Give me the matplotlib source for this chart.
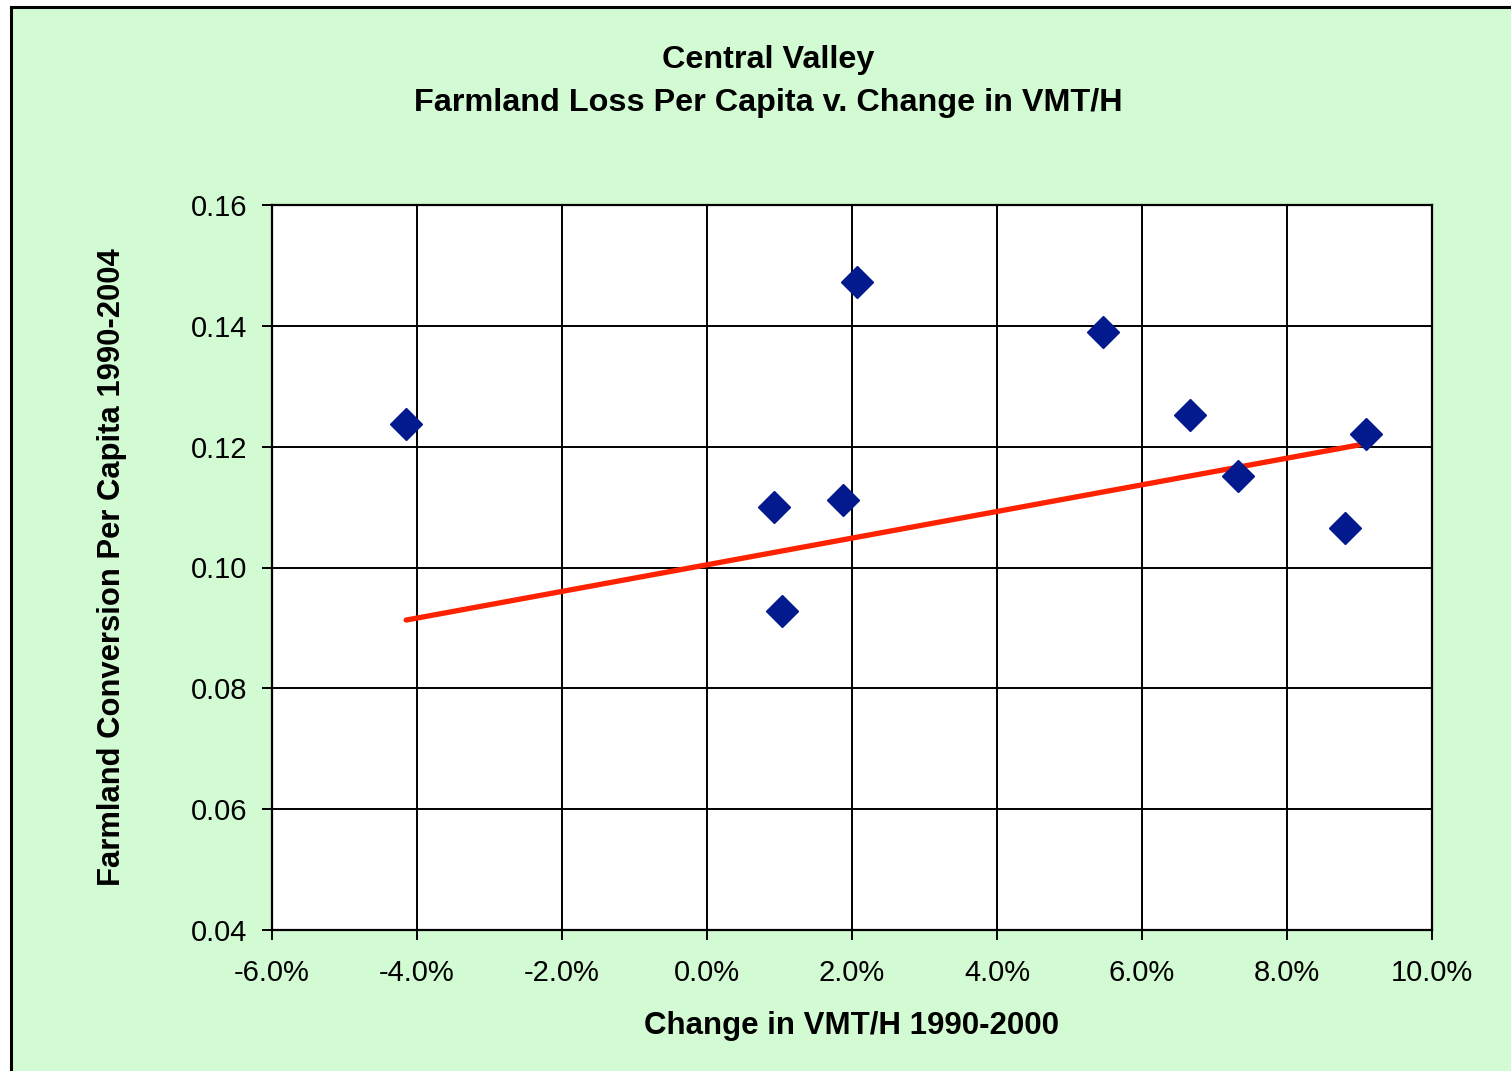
import matplotlib.pyplot as plt
from matplotlib.patches import Rectangle
from matplotlib.ticker import FuncFormatter

# data
vmt_change = [-4.15, 0.92, 1.03, 1.88, 2.07, 5.46, 6.66, 7.32, 8.80, 9.09]  # percent
farm_loss = [0.1238, 0.1100, 0.0928, 0.1112, 0.1473, 0.1390, 0.1252, 0.1151, 0.1065, 0.1221]
trend_x = [-4.15, 9.09]
trend_y = [0.0913, 0.1205]

x_ticks = [-6, -4, -2, 0, 2, 4, 6, 8, 10]
y_ticks = [0.04, 0.06, 0.08, 0.10, 0.12, 0.14, 0.16]

bg = "#D3FBD3"
plt.rcParams["font.family"] = ["Liberation Sans", "DejaVu Sans"]

fig = plt.figure(figsize=(15.11, 10.71), dpi=100)
fig.patch.set_facecolor("white")
# chart area with border
fig.patches.append(Rectangle((11 / 1511, -0.01), 1.02, 1 - 7 / 1071 + 0.01, transform=fig.transFigure,
                             facecolor=bg, edgecolor="black", linewidth=2.2, zorder=-5))

ax = fig.add_axes([272 / 1511, 1 - 930 / 1071, (1432 - 272) / 1511, (930 - 205) / 1071])
ax.set_zorder(2)
ax.set_facecolor("white")

ax.plot(trend_x, trend_y, color="#FF2200", linewidth=3.8, solid_capstyle="round", zorder=3)
ax.plot(vmt_change, farm_loss, linestyle="none", marker="D", markersize=16,
        color="#021A8E", zorder=4)

ax.set_xlim(-6, 10)
ax.set_ylim(0.04, 0.16)
ax.set_xticks(x_ticks)
ax.set_yticks(y_ticks)
ax.xaxis.set_major_formatter(FuncFormatter(lambda v, p: f"{v:.1f}%"))
ax.yaxis.set_major_formatter(FuncFormatter(lambda v, p: f"{v:.2f}"))
ax.grid(True, color="black", linewidth=1.4)
ax.set_axisbelow(True)
for s in ax.spines.values():
    s.set_linewidth(1.6)
ax.tick_params(direction="out", length=7, width=1.4, labelsize=21, pad=14)
ax.tick_params(axis="y", pad=11)

ax.set_xlabel("Change in VMT/H 1990-2000", fontsize=22.5, fontweight="bold", labelpad=17)
ax.set_ylabel("Farmland Conversion Per Capita 1990-2004", fontsize=22.3, fontweight="bold", labelpad=46)

fig.text(768 / 1511, 1 - 60 / 1071, "Central Valley", ha="center", va="center",
         fontsize=23.3, fontweight="bold")
fig.text(768 / 1511, 1 - 103 / 1071, "Farmland Loss Per Capita v. Change in VMT/H", ha="center",
         va="center", fontsize=23.3, fontweight="bold")

fig.savefig("out.png", dpi=100, facecolor=fig.get_facecolor())
